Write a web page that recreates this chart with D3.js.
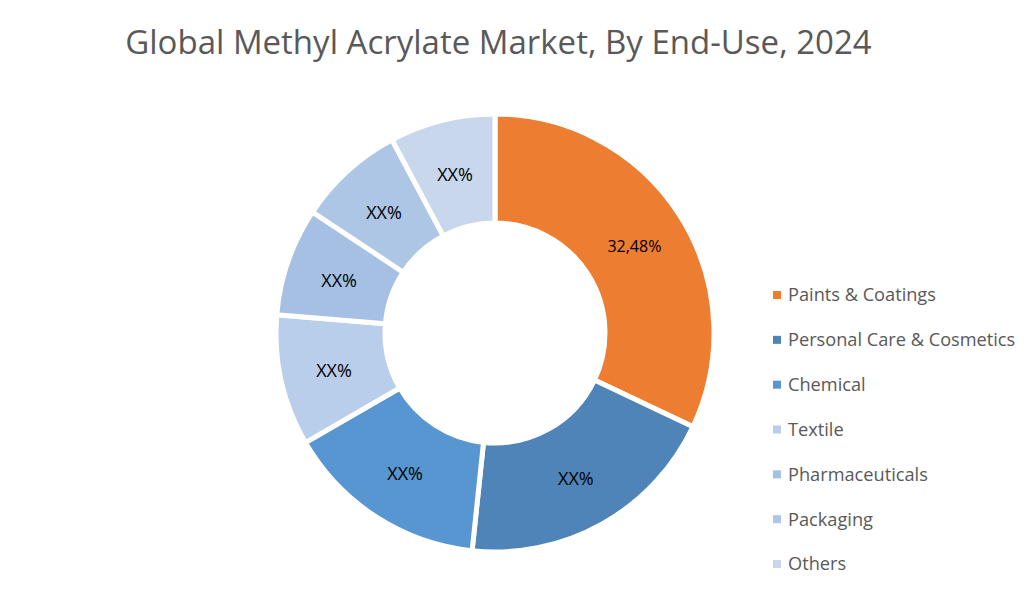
<!DOCTYPE html>
<html>
<head>
<meta charset="utf-8">
<script src="https://cdn.jsdelivr.net/npm/d3@7"></script>
<style>
  body { margin: 0; background: #fff; }
  text { font-family: "Open Sans", sans-serif; }
</style>
</head>
<body>
<svg id="chart" width="1036" height="600"></svg>
<script>
// Données
const categories = ["Paints & Coatings", "Personal Care & Cosmetics", "Chemical", "Textile", "Pharmaceuticals", "Packaging", "Others"];
const values = [32.48, 19.9, 15.2, 9.8, 8.1, 8.0, 7.9];
const labels = ["32,48%", "XX%", "XX%", "XX%", "XX%", "XX%", "XX%"];
const colors = ["#ED7D31", "#4E84B8", "#5796D0", "#B9CEEA", "#A6C0E4", "#AEC6E6", "#C8D7EB"];

const svg = d3.select("#chart");

// Titre
svg.append("text")
    .attr("x", 498.5).attr("y", 54)
    .attr("text-anchor", "middle")
    .style("font-size", "33px")
    .style("fill", "#595959")
    .text("Global Methyl Acrylate Market, By End-Use, 2024");

// Anneau
const cx = 495, cy = 333;
const pie = d3.pie().sort(null).value((d, i) => values[i]);
const arc = d3.arc().innerRadius(110).outerRadius(219);
const labelArc = d3.arc().innerRadius(165).outerRadius(165);

const donut = svg.append("g").attr("transform", `translate(${cx}, ${cy})`);
const arcs = pie(categories);

donut.selectAll("path")
    .data(arcs)
    .enter().append("path")
    .attr("d", arc)
    .attr("fill", (d, i) => colors[i])
    .attr("stroke", "#fff")
    .attr("stroke-width", 5);

donut.selectAll("text")
    .data(arcs)
    .enter().append("text")
    .attr("transform", d => `translate(${labelArc.centroid(d)})`)
    .attr("text-anchor", "middle")
    .attr("y", 2)
    .attr("dy", "0.35em")
    .style("font-size", (d, i) => i === 0 ? "16px" : "18px")
    .style("fill", "#000")
    .text((d, i) => labels[i]);

// Légende
const legendY = d3.scalePoint().domain(categories).range([295, 564]);
const legend = svg.append("g");

legend.selectAll("rect")
    .data(categories)
    .enter().append("rect")
    .attr("x", 773)
    .attr("y", d => legendY(d) - 4)
    .attr("width", 8).attr("height", 8)
    .attr("fill", (d, i) => colors[i]);

legend.selectAll("text")
    .data(categories)
    .enter().append("text")
    .attr("x", 788)
    .attr("y", d => legendY(d))
    .attr("dy", "0.35em")
    .style("font-size", "18.2px")
    .style("fill", "#595959")
    .text(d => d);
</script>
</body>
</html>
